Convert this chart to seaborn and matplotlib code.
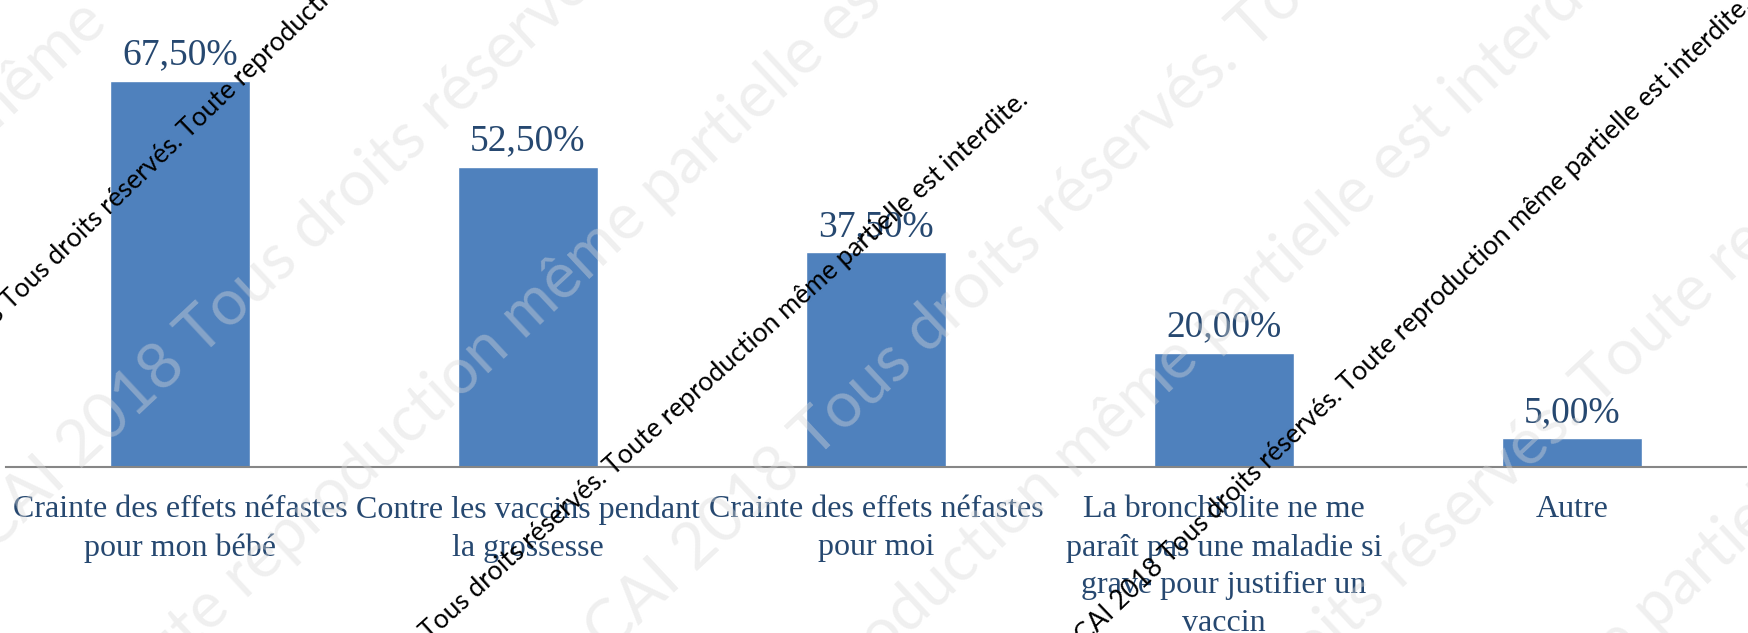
"""
Raisons du refus de la vaccination - diagramme en barres
"""
import matplotlib
matplotlib.use("Agg")
import matplotlib.pyplot as plt
import seaborn as sns
import pandas as pd

# données
categories = [
    "Crainte des effets néfastes\npour mon bébé",
    "Contre les vaccins pendant\nla grossesse",
    "Crainte des effets néfastes\npour moi",
    "La bronchiolite ne me\nparaît pas une maladie si\ngrave pour justifier un\nvaccin",
    "Autre",
]
values = [67.5, 52.5, 37.5, 20.0, 5.0]

wm_before = "© CAI 2018 Tous droits réservés. "
wm_after = "Toute reproduction même partielle est interdite."

BAR = "#4F81BD"
TEXT = "#264870"
W, H = 1749, 633

df = pd.DataFrame({"raison": categories, "pct": values})

sns.set_theme(style="white")
plt.rcParams["font.family"] = ["Liberation Serif", "DejaVu Serif"]

fig = plt.figure(figsize=(W / 100, H / 100), dpi=100)
ax = fig.add_axes([6 / W, (H - 467) / H, 1740 / W, 467 / H])

sns.barplot(data=df, x="raison", y="pct", color=BAR, saturation=1,
            width=0.4, ax=ax)

ax.set_xlim(-0.5, len(categories) - 0.5)
ax.set_ylim(0, 81.6)
ax.set_xlabel("")
ax.set_ylabel("")
ax.set_yticks([])
for s in ["top", "right", "left"]:
    ax.spines[s].set_visible(False)
ax.spines["bottom"].set_color("#868686")
ax.spines["bottom"].set_linewidth(1.5)
ax.tick_params(axis="x", length=0, pad=20.5, labelsize=23, labelcolor=TEXT)
for lab in ax.get_xticklabels():
    lab.set_linespacing(1.39)

# étiquettes de valeurs
for i, v in enumerate(values):
    ax.annotate(f"{v:.2f}%".replace(".", ","), (i, v), xytext=(0, 12),
                textcoords="offset points", ha="center", va="baseline",
                fontsize=27, color=TEXT)


def watermark(x, y, before, after, size, color, alpha, angle):
    kw = dict(rotation=angle, rotation_mode="anchor", va="baseline",
              fontsize=size, color=color, alpha=alpha, family="Lato")
    fig.text(x / W, 1 - y / H, before, ha="right", **kw)
    fig.text(x / W, 1 - y / H, after, ha="left", **kw)


# filigrane clair
faint = dict(size=46, color="#D9D9D9", alpha=0.4, angle=43)
watermark(110, 25, "CAI 2018 Tous droits réservés. Toute reproduction même", "", **faint)
watermark(80, 470, "interdite. CAI ", "2018 Tous droits réservés. Toute", **faint)
watermark(245, 600, "réservés. Toute ", "reproduction même partielle est interdite.", **faint)
watermark(815, 460, "interdite. CAI 2018 ", "Tous droits réservés. Toute", **faint)
watermark(1075, 480, "Toute reproduction ", "même partielle est interdite.", **faint)
watermark(1400, 590, "2018 Tous droits ", "réservés. Toute reproduction", **faint)
watermark(1655, 633, "même ", "partielle est interdite.", **faint)

# filigrane noir
watermark(189, 139, wm_before, wm_after, 19, "black", 1, 44)
watermark(614, 476, wm_before, wm_after, 19, "black", 1, 42)
watermark(1349, 393, wm_before, wm_after, 19, "black", 1, 43.7)

fig.savefig("out.png", dpi=100)
plt.close(fig)
